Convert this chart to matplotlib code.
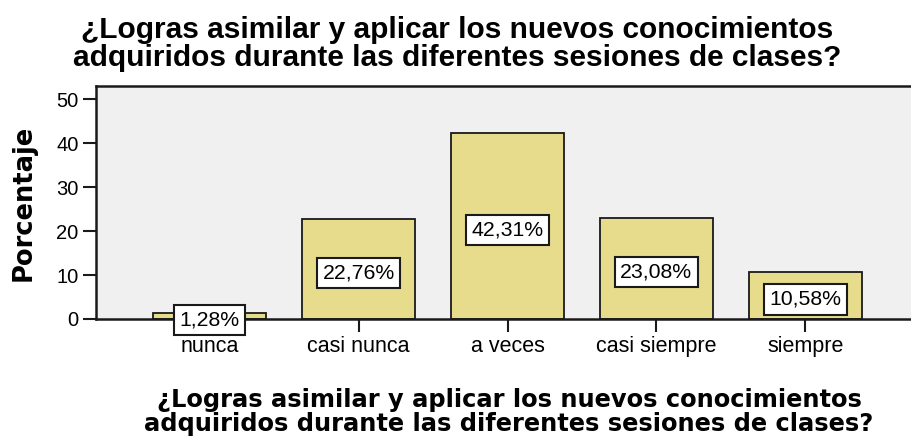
import numpy as np
import matplotlib.pyplot as plt

# Data
categorias = ['nunca', 'casi nunca', 'a veces', 'casi siempre', 'siempre']
porcentajes = [1.28, 22.76, 42.31, 23.08, 10.58]
etiquetas = ['1,28%', '22,76%', '42,31%', '23,08%', '10,58%']
yticks = [0, 10, 20, 30, 40, 50]

linea1 = '¿Logras asimilar y aplicar los nuevos conocimientos'
linea2 = 'adquiridos durante las diferentes sesiones de clases?'

W, H = 911, 443
fig = plt.figure(figsize=(W / 100, H / 100), dpi=100)
fig.patch.set_facecolor('white')

# axes runs past the right edge (cropped in the reference)
ax = fig.add_axes([96 / W, 1 - 319 / H, 823 / W, 233 / H])
ax.set_facecolor('#f0f0f0')

x = np.arange(len(categorias))
ax.bar(x, porcentajes, width=0.76, color='#e6dc8c', edgecolor='#1a1a1a',
       linewidth=1.3, zorder=2)

for xi, v, lab in zip(x, porcentajes, etiquetas):
    ax.annotate(lab, (xi, v / 2), xytext=(0, -2.7), textcoords='offset points',
                ha='center', va='center', fontsize=15.3, family='Liberation Sans',
                bbox=dict(boxstyle='square,pad=0.26', fc='white', ec='#1a1a1a', lw=1.5),
                zorder=3)

ax.set_xlim(-0.765, len(categorias) - 1 + 0.765)
ax.set_ylim(0, 53)
ax.set_yticks(yticks)
ax.set_xticks(x)
ax.set_xticklabels(categorias)

for s in ax.spines.values():
    s.set_linewidth(1.8)
    s.set_color('#1a1a1a')

ax.tick_params(axis='both', direction='out', length=9.5, width=1.5,
               color='#1a1a1a', pad=3)
ax.tick_params(axis='x', labelsize=15.5)
ax.tick_params(axis='y', labelsize=14.5)
for t in ax.get_xticklabels() + ax.get_yticklabels():
    t.set_family('Liberation Sans')

fig.text(24 / W, 1 - 203 / H, 'Porcentaje', rotation=90, ha='center', va='center',
         fontsize=18.5, fontweight='bold', family='DejaVu Sans')

# x axis title (two lines)
fig.text(509 / W, 1 - 388 / H, linea1 + '\n' + linea2, ha='center', va='top',
         fontsize=17.4, fontweight='bold', family='DejaVu Sans', linespacing=1.0)

# chart title (two lines)
fig.text(457 / W, 1 - 16 / H, linea1 + '\n' + linea2, ha='center', va='top',
         fontsize=21.5, fontweight='bold', family='Liberation Sans', linespacing=1.0)

fig.savefig('out.png', dpi=100)
